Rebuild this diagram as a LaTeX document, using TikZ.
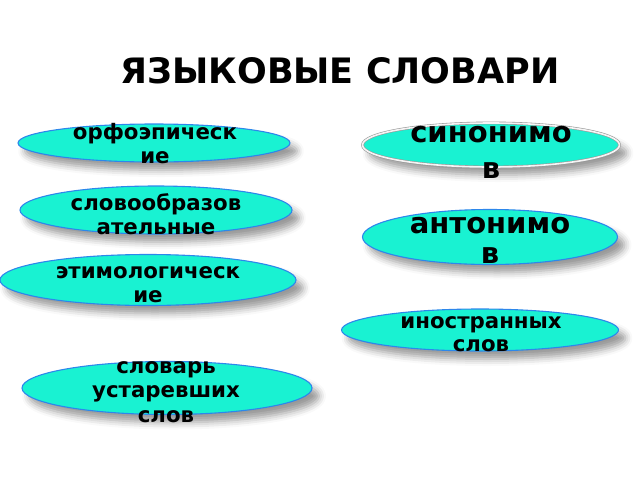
\documentclass[tikz,border=0pt]{standalone}
\usepackage{fontspec}
\setmainfont{DejaVu Sans}
\usetikzlibrary{shapes.geometric,shadows.blur}
\definecolor{aq}{RGB}{25,242,210}
\definecolor{cy}{RGB}{90,228,245}
\definecolor{rim}{RGB}{45,135,235}
\pgfdeclareradialshading{aquaglow}{\pgfpoint{0bp}{0bp}}{color(0bp)=(aq); color(27bp)=(aq); color(35bp)=(cy); color(100bp)=(cy)}
\newcommand{\mlines}[1]{\begin{tabular}[t]{@{}c@{}}#1\end{tabular}}
\tikzset{
  bubble/.style={ellipse, inner sep=0pt, shading=aquaglow, draw=rim, line width=1.1pt,
    blur shadow={shadow xshift=7pt, shadow yshift=-8pt, shadow blur radius=7pt, shadow opacity=40}},
  greybubble/.style={bubble, draw=gray!80, double=white!92!gray, double distance=1.6pt, line width=0.6pt},
  lbl/.style={anchor=base, inner sep=0pt, font=\bfseries\fontsize{21.3}{24.5}\selectfont},
  biglbl/.style={anchor=base, inner sep=0pt},
  title/.style={anchor=base, inner sep=0pt, font=\bfseries\fontsize{35}{40}\selectfont}
}
\begin{document}
\begin{tikzpicture}[x=1pt,y=-1pt]
\useasboundingbox (0,0) rectangle (640,480);
\node[title] (t) at (340,83) {ЯЗЫКОВЫЕ СЛОВАРИ};
% left column
\node[bubble, minimum width=272pt, minimum height=38pt] (e1) at (154,143) {};
\node[lbl] (l1) at (155,139) {\mlines{орфоэпическ\\ие}};
\node[bubble, minimum width=272pt, minimum height=48pt] (e2) at (156,210) {};
\node[lbl] (l2) at (156,210) {\mlines{словообразов\\ательные}};
\node[bubble, minimum width=296pt, minimum height=51pt] (e3) at (148,280) {};
\node[lbl] (l3) at (148,278) {\mlines{этимологическ\\ие}};
\node[bubble, minimum width=290pt, minimum height=53pt] (e4) at (167,388) {};
\node[lbl] (l4) at (166,373) {\mlines{словарь\\устаревших\\слов}};
% right column
\node[greybubble, minimum width=257pt, minimum height=44pt] (e5) at (491,145) {};
\node[biglbl, font=\bfseries\fontsize{29}{36}\selectfont] (l5) at (491,142) {\mlines{синонимо\\в}};
\node[bubble, minimum width=255pt, minimum height=55pt] (e6) at (490,237) {};
\node[biglbl, font=\bfseries\fontsize{29}{30.5}\selectfont] (l6) at (490,233) {\mlines{антонимо\\в}};
\node[bubble, minimum width=277pt, minimum height=42pt] (e7) at (480,330) {};
\node[lbl, font=\bfseries\fontsize{21.3}{23}\selectfont] (l7) at (481,328) {\mlines{иностранных\\слов}};
\end{tikzpicture}
\end{document}
